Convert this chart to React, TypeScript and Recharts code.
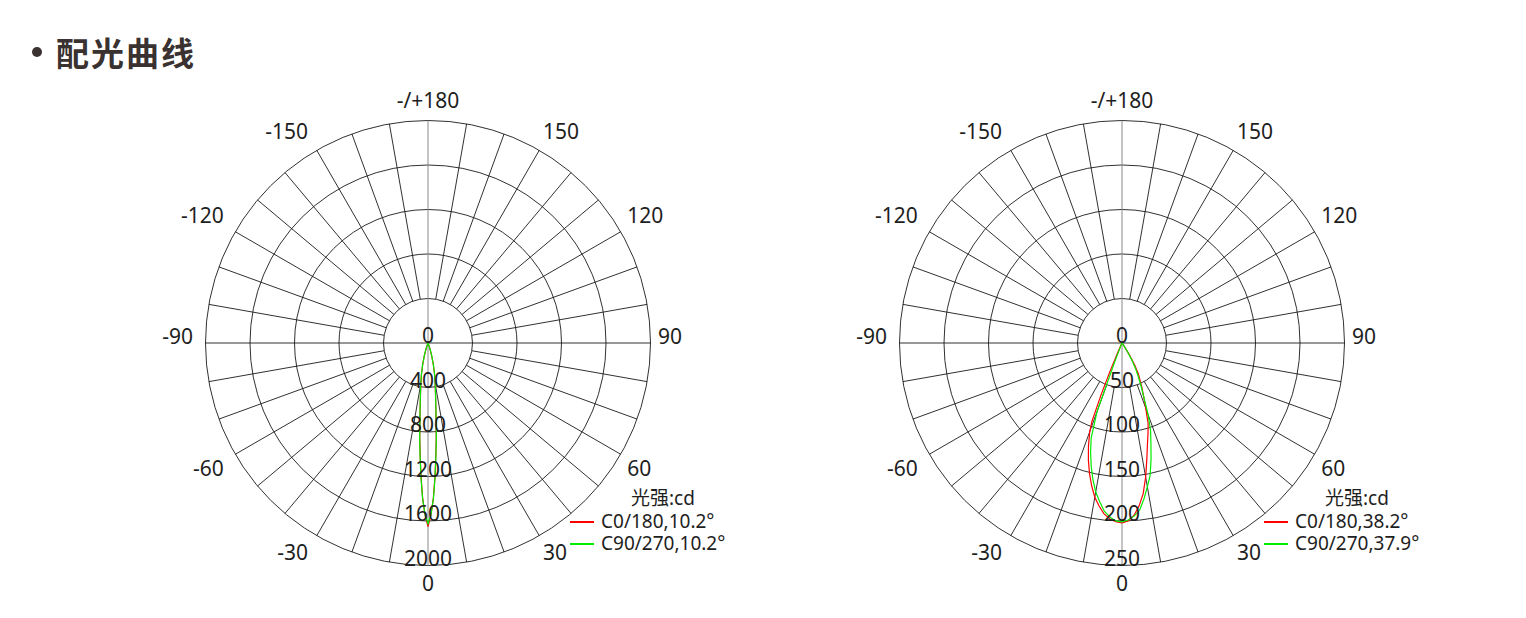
import React from "react";
import {
  RadarChart,
  Radar,
  PolarGrid,
  PolarAngleAxis,
  PolarRadiusAxis,
  Legend,
} from "recharts";

// gamma angles of the labels round the rim
const ANGLE_TICKS = [-150, -120, -90, -60, -30, 0, 30, 60, 90, 120, 150, 180];

// left diagram: narrow beam, cd
const narrowAngles = [-24, -20, -18, -16, -14, -12, -10, -8, -7, -6, -5, -4, -3, -2, -1, 0, 1, 2, 3, 4, 5, 6, 7, 8, 10, 12, 14, 16, 18, 20, 24];
const narrowC0 = [0, 25, 65, 120, 195, 280, 370, 490, 575, 690, 850, 1010, 1200, 1390, 1545, 1650, 1545, 1390, 1200, 1010, 850, 690, 575, 490, 370, 280, 195, 120, 65, 25, 0];
const narrowC90 = [0, 28, 70, 125, 198, 282, 375, 495, 580, 700, 860, 1020, 1210, 1400, 1540, 1625, 1540, 1400, 1210, 1020, 860, 700, 580, 495, 375, 282, 198, 125, 70, 28, 0];
const narrowTicks = [0, 400, 800, 1200, 1600, 2000];
const narrowLegend = ["C0/180,10.2°", "C90/270,10.2°"];

// right diagram: wide beam, cd
const wideAngles = [-40, -36, -32, -28, -26, -24, -23, -22, -21, -20, -18, -16, -14, -12, -10, -8, -6, -4, -2, 0, 2, 4, 6, 8, 10, 12, 14, 16, 18, 20, 22, 24, 26, 28, 30, 32, 36, 40];
const wideC0 = [0, 0, 0, 0, 3, 12, 34, 62, 94, 106, 122, 137, 151, 164, 176, 185, 193, 198, 201, 202, 200, 194, 184, 171, 153, 134, 118, 106, 95, 78, 65, 55, 46, 39, 28, 16, 3, 0];
const wideC90 = [0, 0, 0, 0, 0, 0, 0, 5, 25, 82, 112, 128, 143, 157, 170, 180, 190, 196, 200, 201, 199, 195, 189, 177, 164, 152, 135, 118, 104, 86, 65, 52, 41, 32, 22, 12, 2, 0];
const wideTicks = [0, 50, 100, 150, 200, 250];
const wideLegend = ["C0/180,38.2°", "C90/270,37.9°"];

const COLORS = ["#ff0000", "#00ee00"];

const W = 620;
const H = 560;
const CX = 310;
const CY = 280;
const OUTER = 222.5;
const INNER = 44.5;
const LABEL_R = 230;
const FONT = "'Noto Sans', 'Noto Sans CJK SC', sans-serif";

// spokes every 10 deg, the four main axes are drawn separately
const SPOKES = Array.from({ length: 36 }, (_, i) => i * 10).filter((a) => a % 90 !== 0);

const CHAR_W: Record<string, number> = { "-": 6.8, "/": 7.8, "+": 12 };
const textWidth = (s: string) =>
  s.split("").reduce((w, ch) => w + (CHAR_W[ch] ?? 12), 0);

const AngleTick = (props: any) => {
  const { x, y, payload } = props;
  const label = payload.value === 180 ? "-/+180" : String(payload.value);
  const dx = x - CX;
  const dy = y - CY;
  const len = Math.hypot(dx, dy) || 1;
  const ux = dx / len;
  const uy = dy / len;
  const w = textWidth(label);
  // text box hangs outside the rim, on the side the spoke points to
  const offX = ux > 0.01 ? w / 2 : ux < -0.01 ? -w / 2 - 5 : 0;
  const offY = uy < -0.01 ? -12.5 : uy > 0.01 ? 10.5 : -7;
  const tx = CX + ux * LABEL_R + offX;
  const ty = CY + uy * LABEL_R + offY;
  return (
    <text x={tx} y={ty + 7.5} textAnchor="middle" fontSize={21} fill="#1e1e1e">
      {label}
    </text>
  );
};

const RadiusTick = (props: any) => (
  <text x={props.x} y={props.y} textAnchor="middle" fontSize={21} fill="#1e1e1e">
    {props.payload.value}
  </text>
);

type DiagramProps = {
  left: number;
  angles: number[];
  c0: number[];
  c90: number[];
  ticks: number[];
  legend: string[];
};

const PolarDiagram: React.FC<DiagramProps> = ({ left, angles, c0, c90, ticks, legend }) => {
  const data = angles.map((angle, i) => ({ angle, c0: c0[i], c90: c90[i] }));
  const max = ticks[ticks.length - 1];

  const renderLegend = () => (
    <div style={{ fontSize: 19, color: "#1e1e1e", lineHeight: "20px" }}>
      <div style={{ height: 22, display: "flex", alignItems: "center", paddingLeft: 61 }}>光强:cd</div>
      {legend.map((name, index) => (
        <div
          key={`legend-${name}`}
          style={{ height: index === 0 ? 23 : 21, display: "flex", alignItems: "center" }}
        >
          <span style={{ width: 24, height: 1.2, background: COLORS[index], marginRight: 7, marginTop: 3 }} />
          <span>{name}</span>
        </div>
      ))}
    </div>
  );

  return (
    <div style={{ position: "absolute", left, top: 63, width: W, height: H }}>
      <div style={{ position: "absolute", left: 0, top: 0 }}>
        <RadarChart width={W} height={H} data={data} cx={CX} cy={CY} innerRadius={INNER} outerRadius={OUTER} margin={{ top: 0, right: 0, bottom: 0, left: 0 }}>
          <PolarGrid gridType="circle" polarAngles={SPOKES} polarRadius={[]} stroke="#1a1a1a" strokeWidth={0.9} />
        </RadarChart>
      </div>
      <div style={{ position: "absolute", left: 0, top: 0 }}>
        <RadarChart
          width={W}
          height={H}
          data={data}
          cx={CX}
          cy={CY}
          outerRadius={OUTER}
          startAngle={-270}
          endAngle={90}
          margin={{ top: 0, right: 0, bottom: 0, left: 0 }}
        >
          <PolarGrid gridType="circle" polarAngles={[0, 180]} stroke="#1a1a1a" strokeWidth={0.9} />
          <PolarGrid gridType="circle" polarAngles={[90, 270]} polarRadius={[]} stroke="#8a8a8a" strokeWidth={1} />
          <PolarAngleAxis
            dataKey="angle"
            type="number"
            domain={[-180, 180]}
            ticks={ANGLE_TICKS}
            axisLine={false}
            tickLine={false}
            tickSize={20}
            tick={AngleTick}
          />
          <PolarRadiusAxis
            type="number"
            angle={-90}
            domain={[0, max]}
            ticks={ticks}
            tickCount={ticks.length}
            axisLine={false}
            tickLine={false}
            tick={RadiusTick}
          />
          <Radar dataKey="c0" name={legend[0]} stroke={COLORS[0]} strokeWidth={1.2} fill="none" fillOpacity={0} dot={false} isAnimationActive={false} />
          <Radar dataKey="c90" name={legend[1]} stroke={COLORS[1]} strokeWidth={1.2} fill="none" fillOpacity={0} dot={false} isAnimationActive={false} />
          <Legend
            content={renderLegend}
            verticalAlign="bottom"
            wrapperStyle={{ position: "absolute", left: CX + 142, top: CY + 144, width: 200, bottom: "auto" }}
          />
        </RadarChart>
      </div>
    </div>
  );
};

export default function App() {
  return (
    <div style={{ position: "absolute", left: 0, top: 0, width: 1526, height: 618, background: "#fff", fontFamily: FONT, overflow: "hidden" }}>
      <div style={{ position: "absolute", left: 32, top: 47, width: 10, height: 10, borderRadius: 5, background: "#3a3131" }} />
      <div
        style={{
          position: "absolute",
          left: 56,
          top: 30,
          fontSize: 33,
          fontWeight: 700,
          letterSpacing: 2,
          color: "#3a3131",
          fontFamily: "'Noto Sans CJK SC', sans-serif",
          lineHeight: "44px",
        }}
      >
        配光曲线
      </div>
      <PolarDiagram left={428 - CX} angles={narrowAngles} c0={narrowC0} c90={narrowC90} ticks={narrowTicks} legend={narrowLegend} />
      <PolarDiagram left={1122 - CX} angles={wideAngles} c0={wideC0} c90={wideC90} ticks={wideTicks} legend={wideLegend} />
    </div>
  );
}
